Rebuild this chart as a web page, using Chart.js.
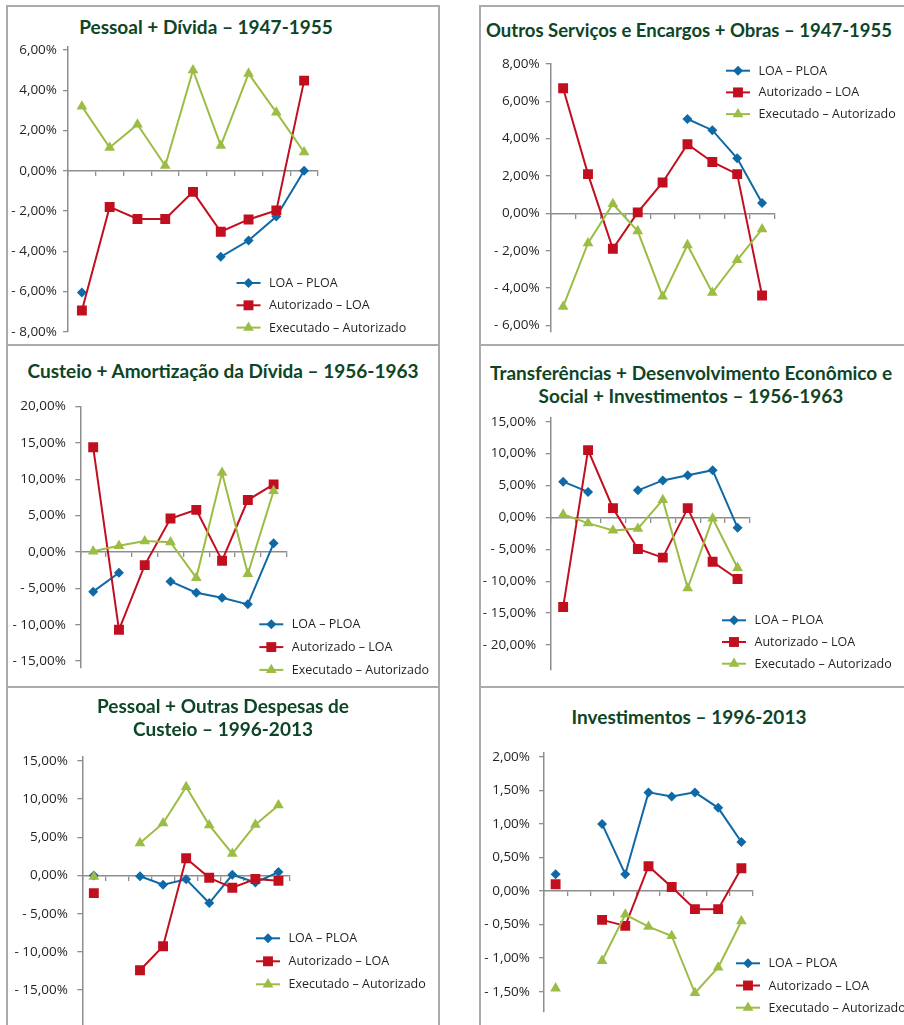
<!DOCTYPE html>
<html>
<head>
<meta charset="utf-8">
<script src="https://cdn.jsdelivr.net/npm/chart.js@4.4.1/dist/chart.umd.min.js"></script>
<style>
    html, body { margin: 0; padding: 0; background: #fff; overflow: hidden; width: 904px; height: 1025px; }
    canvas { position: absolute; }
    .frame { position: absolute; box-sizing: border-box; border: 2px solid #ababab; z-index: 2; }
    .title { position: absolute; transform: translate(-50%, -50%); white-space: nowrap; font: 700 19px Lato, sans-serif; color: #0d4526; }
</style>
</head>
<body>
<script>
// series names
const seriesNames = ['LOA – PLOA', 'Autorizado – LOA', 'Executado – Autorizado'];

// categories
const years4755 = ['1947', '1948', '1949', '1950', '1951', '1952', '1953', '1954', '1955'];
const years5663 = ['1956', '1957', '1958', '1959', '1960', '1961', '1962', '1963'];
const bienios9613 = ['1996-97', '1998-99', '2000-01', '2002-03', '2004-05', '2006-07', '2008-09', '2010-11', '2012-13'];

// Pessoal + Dívida – 1947-1955
const p1Loa = [-6.05, null, null, null, null, -4.28, -3.47, -2.28, 0.0];
const p1Aut = [-6.95, -1.8, -2.4, -2.4, -1.05, -3.03, -2.42, -1.97, 4.48];
const p1Exe = [3.2, 1.15, 2.3, 0.25, 5.0, 1.25, 4.83, 2.9, 0.92];
const p1Ticks = [6, 4, 2, 0, -2, -4, -6, -8];

// Outros Serviços e Encargos + Obras – 1947-1955
const p2Loa = [null, null, null, null, null, 5.05, 4.45, 2.95, 0.55];
const p2Aut = [6.7, 2.1, -1.9, 0.05, 1.65, 3.7, 2.75, 2.1, -4.4];
const p2Exe = [-5.0, -1.6, 0.5, -0.95, -4.45, -1.7, -4.25, -2.5, -0.85];
const p2Ticks = [8, 6, 4, 2, 0, -2, -4, -6];

// Custeio + Amortização da Dívida – 1956-1963
const p3Loa = [-5.45, -2.85, null, -4.05, -5.6, -6.3, -7.2, 1.2];
const p3Aut = [14.4, -10.7, -1.8, 4.6, 5.8, -1.2, 7.15, 9.3];
const p3Exe = [0.1, 0.85, 1.5, 1.35, -3.55, 10.9, -3.0, 8.4];
const p3Ticks = [20, 15, 10, 5, 0, -5, -10, -15];

// Transferências + Desenvolvimento Econômico e Social + Investimentos – 1956-1963
const p4Loa = [5.6, 4.0, null, 4.25, 5.8, 6.6, 7.4, -1.6];
const p4Aut = [-14.05, 10.55, 1.45, -4.95, -6.3, 1.45, -6.95, -9.65];
const p4Exe = [0.45, -0.9, -2.05, -1.75, 2.75, -11.1, -0.15, -7.9];
const p4Ticks = [15, 10, 5, 0, -5, -10, -15, -20];

// Pessoal + Outras Despesas de Custeio – 1996-2013
const p5Loa = [0.0, null, -0.1, -1.2, -0.5, -3.6, 0.1, -0.9, 0.45];
const p5Aut = [-2.3, null, -12.4, -9.25, 2.25, -0.3, -1.6, -0.45, -0.7];
const p5Exe = [-0.15, null, 4.25, 6.85, 11.6, 6.6, 2.85, 6.65, 9.2];
const p5Ticks = [15, 10, 5, 0, -5, -10, -15];

// Investimentos – 1996-2013
const p6Loa = [0.25, null, 1.0, 0.25, 1.47, 1.41, 1.47, 1.24, 0.73];
const p6Aut = [0.1, null, -0.43, -0.52, 0.37, 0.06, -0.27, -0.27, 0.34];
const p6Exe = [-1.45, null, -1.04, -0.35, -0.53, -0.67, -1.52, -1.14, -0.45];
const p6Ticks = [2, 1.5, 1, 0.5, 0, -0.5, -1, -1.5];

const BLUE = '#0f69a6';
const RED = '#c10f1f';
const GREEN = '#9cbd45';
const AXIS = '#8e8e8e';
const TEXT = '#231f20';
const FONT = '"Open Sans", sans-serif';

// layout of each panel (page coordinates)
const panels = [
    {
        title: ['Pessoal + Dívida – 1947-1955'], titleX: 206, titleY: [26], titleSize: 19,
        labels: years4755, loa: p1Loa, aut: p1Aut, exe: p1Exe, ticks: p1Ticks, min: -8, max: 6.15,
        box: { x: 6, y: 5, w: 434, h: 341 },
        area: { left: 68, right: 318, top: 47, bottom: 331.7 }, lblPad: 6,
        legend: { x: 236.5, y: 283, gap: 22.3 },
    },
    {
        title: ['Outros Serviços e Encargos + Obras – 1947-1955'], titleX: 689, titleY: [30], titleSize: 18.5,
        labels: years4755, loa: p2Loa, aut: p2Aut, exe: p2Exe, ticks: p2Ticks, min: -6.35, max: 8,
        box: { x: 479, y: 5, w: 425, h: 341 },
        area: { left: 550.7, right: 774.5, top: 63.9, bottom: 332.8 }, lblPad: 6,
        legend: { x: 726, y: 70.7, gap: 21.7 },
    },
    {
        title: ['Custeio + Amortização da Dívida – 1956-1963'], titleX: 223, titleY: [370], titleSize: 19,
        labels: years5663, loa: p3Loa, aut: p3Aut, exe: p3Exe, ticks: p3Ticks, min: -15.9, max: 20,
        box: { x: 6, y: 344, w: 434, h: 344 },
        area: { left: 80.3, right: 286.5, top: 406.6, bottom: 667.6 }, lblPad: 9.5,
        legend: { x: 259.3, y: 624.3, gap: 22.8 },
    },
    {
        title: ['Transferências + Desenvolvimento Econômico e', 'Social + Investimentos – 1956-1963'], titleX: 691, titleY: [371.7, 395], titleSize: 19,
        labels: years5663, loa: p4Loa, aut: p4Aut, exe: p4Exe, ticks: p4Ticks, min: -23.9, max: 15.6,
        box: { x: 479, y: 344, w: 425, h: 344 },
        area: { left: 550.7, right: 750, top: 417.9, bottom: 669.9 }, lblPad: 9.5,
        legend: { x: 722, y: 620.3, gap: 21.7 },
    },
    {
        title: ['Pessoal + Outras Despesas de', 'Custeio – 1996-2013'], titleX: 223, titleY: [705, 728.3], titleSize: 19,
        labels: bienios9613, loa: p5Loa, aut: p5Aut, exe: p5Exe, ticks: p5Ticks, min: -20, max: 15.5,
        box: { x: 6, y: 686, w: 434, h: 360 },
        area: { left: 82.3, right: 290, top: 757.1, bottom: 1028.3 }, lblPad: 9.5,
        legend: { x: 256, y: 938.3, gap: 23 },
    },
    {
        title: ['Investimentos – 1996-2013'], titleX: 689, titleY: [715.7], titleSize: 19,
        labels: bienios9613, loa: p6Loa, aut: p6Aut, exe: p6Exe, ticks: p6Ticks, min: -1.8, max: 2.06,
        box: { x: 479, y: 686, w: 425, h: 360 },
        area: { left: 544, right: 753, top: 752.8, bottom: 1011.8 }, lblPad: 9,
        legend: { x: 736, y: 963.3, gap: 22.2 },
    },
];

function fmtPct(v) {
    const s = Math.abs(v).toFixed(2).replace('.', ',') + '%';
    return v < 0 ? '- ' + s : s;
}

function drawMarker(ctx, style, r, x, y) {
    if (Chart.helpers && Chart.helpers.drawPoint) {
        Chart.helpers.drawPoint(ctx, { pointStyle: style, radius: r, borderWidth: 0, rotation: 0 }, x, y);
        return;
    }
    ctx.beginPath();
    if (style === 'rect') {
        const s = r * Math.SQRT1_2;
        ctx.rect(x - s, y - s, 2 * s, 2 * s);
    } else if (style === 'rectRot') {
        ctx.moveTo(x - r, y); ctx.lineTo(x, y - r); ctx.lineTo(x + r, y); ctx.lineTo(x, y + r);
    } else {
        ctx.moveTo(x, y - r);
        ctx.lineTo(x + Math.sin(2.0944) * r, y - Math.cos(2.0944) * r);
        ctx.lineTo(x + Math.sin(4.1888) * r, y - Math.cos(4.1888) * r);
    }
    ctx.closePath();
    ctx.fill();
}

// legend drawn inside the panel, Excel style
const legendBox = {
    id: 'legendBox',
    afterDraw(chart, args, opts) {
        const ctx = chart.ctx;
        ctx.save();
        ctx.font = '12.5px ' + FONT;
        ctx.textBaseline = 'middle';
        chart.data.datasets.forEach((ds, i) => {
            const y = opts.y + i * opts.gap;
            ctx.strokeStyle = ds.borderColor;
            ctx.lineWidth = 2;
            ctx.beginPath();
            ctx.moveTo(opts.x, y);
            ctx.lineTo(opts.x + 24, y);
            ctx.stroke();
            ctx.fillStyle = ds.pointBackgroundColor;
            drawMarker(ctx, ds.pointStyle, ds.pointRadius, opts.x + 12, y);
            ctx.fillStyle = TEXT;
            ctx.fillText(ds.label, opts.x + 32.5, y + 0.5);
        });
        ctx.restore();
    }
};

function series(label, data, color, style, r, order) {
    return {
        label: label,
        data: data,
        borderColor: color,
        backgroundColor: color,
        pointBackgroundColor: color,
        pointBorderWidth: 0,
        borderWidth: 2,
        pointStyle: style,
        pointRadius: r,
        tension: 0,
        spanGaps: false,
        fill: false,
        order: order,
    };
}

function renderPanel(p) {
    const b = p.box;
    const frame = document.createElement('div');
    frame.className = 'frame';
    Object.assign(frame.style, { left: b.x + 'px', top: b.y + 'px', width: (b.x > 400 ? 500 : b.w) + 'px', height: (b.y > 600 ? 400 : b.h) + 'px' });
    document.body.appendChild(frame);

    p.title.forEach((line, i) => {
        const t = document.createElement('div');
        t.className = 'title';
        t.textContent = line;
        t.style.left = p.titleX + 'px';
        t.style.top = p.titleY[i] + 'px';
        t.style.fontSize = p.titleSize + 'px';
        document.body.appendChild(t);
    });

    const canvas = document.createElement('canvas');
    canvas.width = b.w;
    canvas.height = b.h;
    canvas.style.left = b.x + 'px';
    canvas.style.top = b.y + 'px';
    document.body.appendChild(canvas);

    const a = p.area;
    new Chart(canvas, {
        type: 'line',
        data: {
            labels: p.labels,
            datasets: [
                series(seriesNames[0], p.loa, BLUE, 'rectRot', 5, 3),
                series(seriesNames[1], p.aut, RED, 'rect', 7, 2),
                series(seriesNames[2], p.exe, GREEN, 'triangle', 6.2, 1),
            ]
        },
        options: {
            responsive: false,
            animation: false,
            layout: {
                padding: { left: 0, top: a.top - b.y, right: b.x + b.w - a.right, bottom: b.y + b.h - a.bottom }
            },
            plugins: {
                legend: { display: false },
                title: { display: false },
                tooltip: { enabled: false },
                legendBox: { x: p.legend.x - b.x, y: p.legend.y - b.y, gap: p.legend.gap },
            },
            scales: {
                x: {
                    type: 'category',
                    position: { y: 0 },
                    offset: true,
                    grid: { display: true, drawOnChartArea: false, drawTicks: true, tickLength: 4.5, offset: true, color: AXIS, lineWidth: 1.3 },
                    border: { display: true, color: AXIS, width: 1.5 },
                    ticks: { display: false },
                },
                y: {
                    min: p.min,
                    max: p.max,
                    afterBuildTicks: (s) => { s.ticks = p.ticks.map((v) => ({ value: v })); },
                    afterFit: (s) => { s.width = a.left - b.x; },
                    grid: { display: true, drawOnChartArea: false, drawTicks: true, tickLength: 5, color: AXIS, lineWidth: 1.3 },
                    border: { display: true, color: AXIS, width: 1.5 },
                    ticks: {
                        color: TEXT,
                        padding: p.lblPad,
                        font: { family: FONT, size: 13.5 },
                        callback: (v) => fmtPct(v),
                    },
                },
            },
        },
        plugins: [legendBox],
    });
}

panels.forEach(renderPanel);
</script>
</body>
</html>
